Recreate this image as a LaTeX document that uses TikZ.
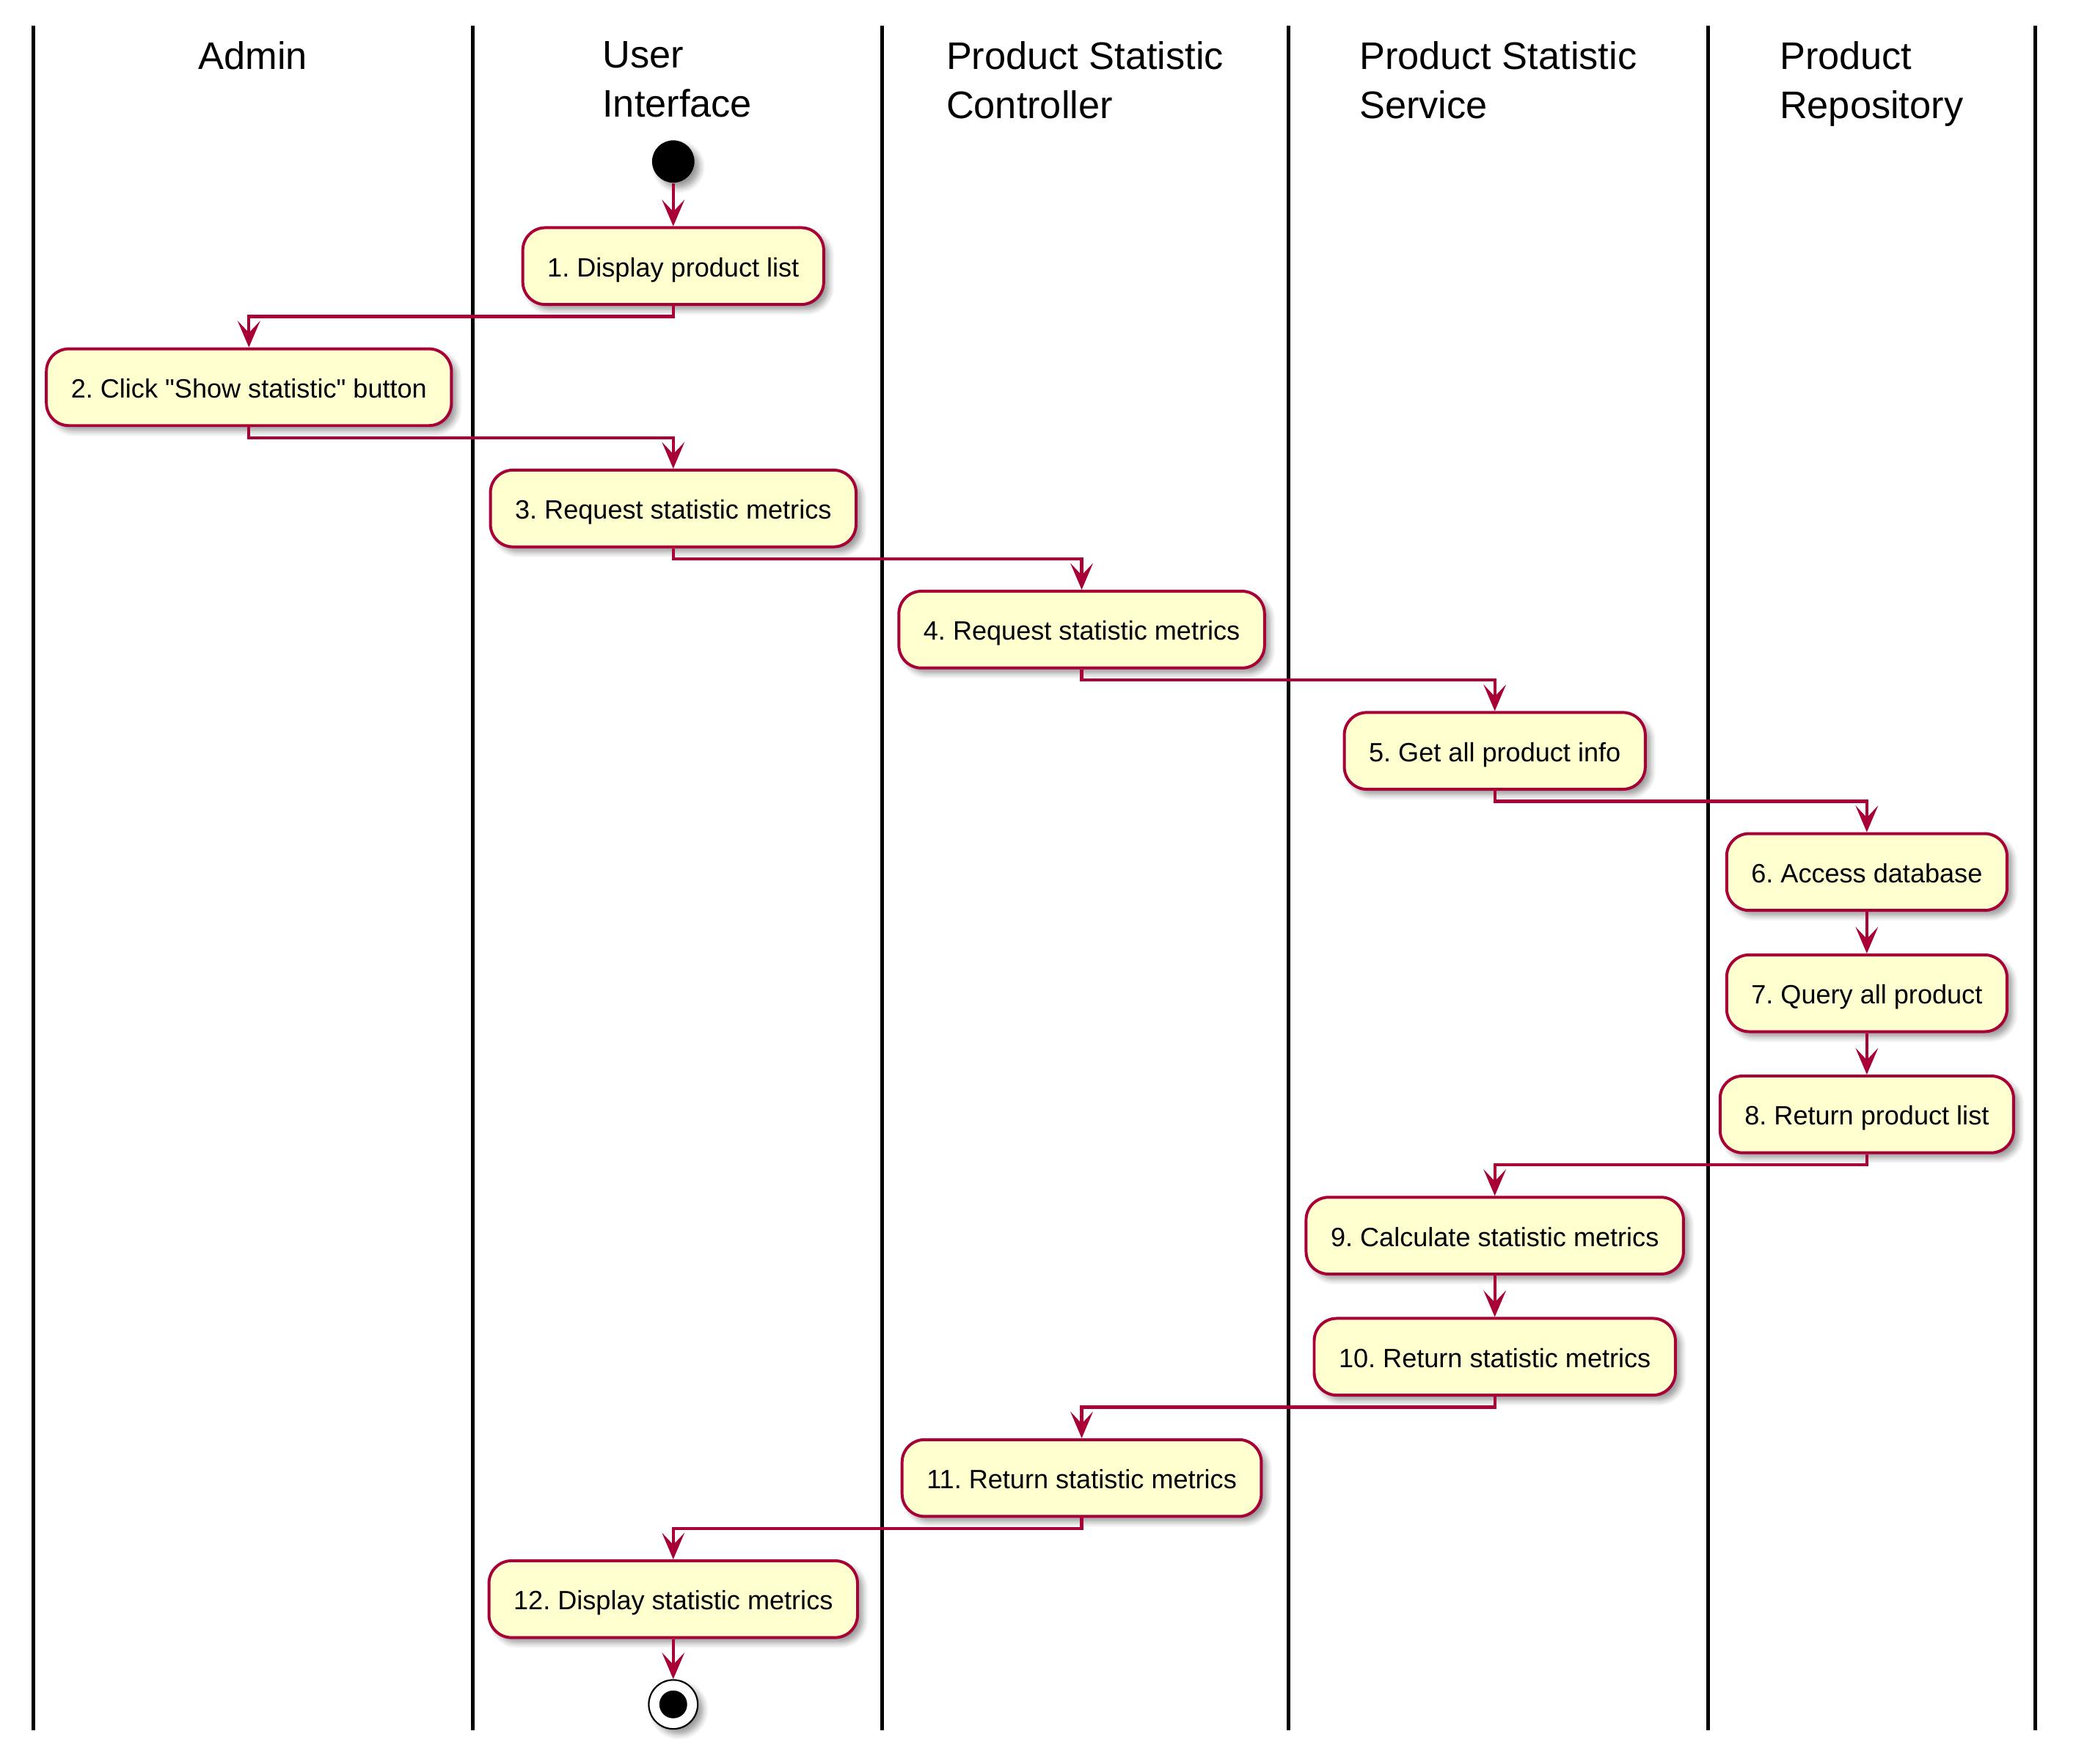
\documentclass[tikz,border=0pt]{standalone}
\usepackage{fontspec}
\setmainfont{Liberation Sans}
\usepackage{tikz}
\usetikzlibrary{arrows.meta,shadows.blur}
\definecolor{actfill}{HTML}{FEFECE}
\definecolor{actline}{HTML}{A80036}
\frenchspacing
\tikzset{
  act/.style={draw=actline, fill=actfill, line width=1.1pt, rounded corners=8.5pt,
    minimum height=29pt, inner xsep=9.3pt, inner ysep=0pt, text height=9pt, text depth=1pt,
    font=\fontsize{10}{12}\selectfont,
    blur shadow={shadow xshift=2pt, shadow yshift=-2pt, shadow blur steps=6, shadow opacity=40}},
  lane/.style={anchor=north, align=left, inner sep=0pt, font=\fontsize{14.5}{18.4}\selectfont},
  laneline/.style={line width=1.4pt, black},
  flow/.style={draw=actline, line width=1.2pt, -{Stealth[length=10pt, width=8.5pt, inset=4.5pt]}},
  startnode/.style={circle, fill=black, minimum size=16pt, inner sep=0pt,
    blur shadow={shadow xshift=2pt, shadow yshift=-2pt, shadow blur steps=6, shadow opacity=40}},
  stopnode/.style={circle, draw=black, line width=0.6pt, fill=white, minimum size=18.5pt, inner sep=0pt,
    blur shadow={shadow xshift=2pt, shadow yshift=-2pt, shadow blur steps=6, shadow opacity=40},
    path picture={\fill[black] (path picture bounding box.center) circle (5.25pt);}}
}
\begin{document}
\begin{tikzpicture}[x=0.5pt, y=-0.5pt]
\useasboundingbox (0,0) rectangle (1568,1332.5);
% swimlanes
\foreach \x in {25,357,666,973,1290,1537}
  \draw[laneline] (\x,19.5) -- (\x,1307);
\node(admin) [lane] at (191,31) {Admin};
\node(ui) [lane] at (511.5,31) {User\\Interface};
\node(ctrl) [lane] at (819.5,31) {Product Statistic\\Controller};
\node(svc) [lane] at (1131.5,31) {Product Statistic\\Service};
\node(repo) [lane] at (1413.5,31) {Product\\Repository};
% activities
\node(start) [startnode] at (508.5,122) {};
\node(1) [act] at (508.5,201) {1. Display product list};
\node(2) [act] at (188,292.5) {2. Click \textquotedbl Show statistic\textquotedbl\ button};
\node(3) [act] at (508.5,384.1) {3. Request statistic metrics};
\node(4) [act] at (817,475.6) {4. Request statistic metrics};
\node(5) [act] at (1129,567.2) {5. Get all product info};
\node(6) [act] at (1410,658.7) {6. Access database};
\node(7) [act] at (1410,750.3) {7. Query all product};
\node(8) [act] at (1410,841.8) {8. Return product list};
\node(9) [act] at (1129,933.4) {9. Calculate statistic metrics};
\node(10) [act] at (1129,1024.9) {10. Return statistic metrics};
\node(11) [act] at (817,1116.5) {11. Return statistic metrics};
\node(12) [act] at (508.5,1208) {12. Display statistic metrics};
\node(stop) [stopnode] at (508.5,1287.5) {};
% flows
\draw[flow] (start) -- (1);
\draw[flow] (1.south) -- ++(0,8) -| (2.north);
\draw[flow] (2.south) -- ++(0,8) -| (3.north);
\draw[flow] (3.south) -- ++(0,8) -| (4.north);
\draw[flow] (4.south) -- ++(0,8) -| (5.north);
\draw[flow] (5.south) -- ++(0,8) -| (6.north);
\draw[flow] (6) -- (7);
\draw[flow] (7) -- (8);
\draw[flow] (8.south) -- ++(0,8) -| (9.north);
\draw[flow] (9) -- (10);
\draw[flow] (10.south) -- ++(0,8) -| (11.north);
\draw[flow] (11.south) -- ++(0,8) -| (12.north);
\draw[flow] (12) -- (stop);
\end{tikzpicture}
\end{document}
